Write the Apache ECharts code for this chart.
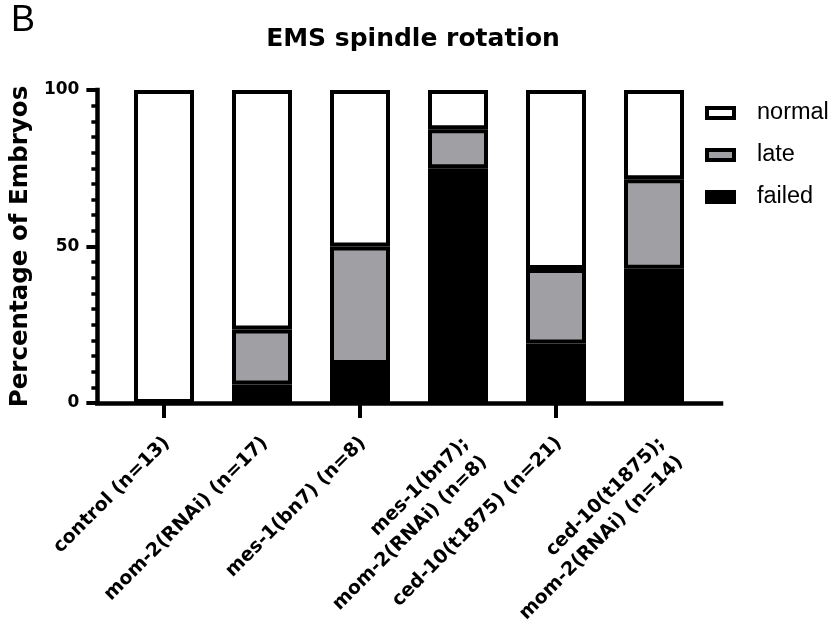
<!DOCTYPE html>
<html>
<head>
<meta charset="utf-8">
<script src="https://cdn.jsdelivr.net/npm/echarts@6/dist/echarts.min.js"></script>
<style>
html,body{margin:0;padding:0;background:#fff;}
#chart{width:835px;height:628px;}
</style>
</head>
<body>
<div id="chart"></div>
<script>
const categories = ['control (n=13)', 'mom-2(RNAi) (n=17)', 'mes-1(bn7) (n=8)', 'mes-1(bn7);\nmom-2(RNAi) (n=8)', 'ced-10(t1875) (n=21)', 'ced-10(t1875);\nmom-2(RNAi) (n=14)'];
const failed = [0, 5.9, 12.5, 75, 19.0, 42.9];
const late = [0, 17.6, 37.5, 12.5, 23.8, 28.6];
const normal = [100, 76.5, 50, 12.5, 57.2, 28.5];
const yTicks = [0, 50, 100];

const BOLD = "'DejaVu Sans', sans-serif";
const REG = "'Liberation Sans', Arial, sans-serif";

const chart = echarts.init(document.getElementById('chart'), null, {renderer: 'canvas'});
const barStyle = (fill) => ({color: fill, borderColor: '#000', borderWidth: 4});
const labelStyle = {rotate: 45, interval: 0, fontFamily: BOLD, fontWeight: 'bold', fontSize: 19, color: '#000', lineHeight: 26};
chart.setOption({
  backgroundColor: '#fff',
  animation: false,
  title: [
    {text: 'B', left: 11, top: 3, padding: 0, textStyle: {fontFamily: "'Liberation Sans Narrow', 'Liberation Sans', sans-serif", fontSize: 36, fontWeight: 'normal', color: '#000'}},
    {text: 'EMS spindle rotation', left: 408, textAlign: 'center', top: 22, textStyle: {fontFamily: BOLD, fontSize: 25, fontWeight: 'bold', color: '#000'}}
  ],
  legend: {
    data: ['normal', 'late', 'failed'],
    orient: 'vertical',
    left: 705, top: 101, padding: 0,
    icon: 'rect',
    itemWidth: 27, itemHeight: 10, itemGap: 18,
    itemStyle: {borderColor: '#000', borderWidth: 4},
    textStyle: {fontFamily: REG, fontSize: 23.5, color: '#000', lineHeight: 24, padding: [0, 0, 0, 18]}
  },
  grid: [
    {left: 97, right: 114, top: 90, bottom: 225},
    {left: 115, right: 132, top: 90, bottom: 225},
    {left: 118, right: 129, top: 90, bottom: 225},
    {left: 132, right: 115, top: 90, bottom: 225}
  ],
  xAxis: [
    {gridIndex: 0, type: 'value', min: 0, max: 1, axisLine: {show: true, lineStyle: {color: '#000', width: 4.5, cap: 'square'}}, axisTick: {show: false}, axisLabel: {show: false}, splitLine: {show: false}},
    {gridIndex: 1, type: 'category', data: categories, boundaryGap: true,
     axisLine: {show: false},
     axisTick: {show: true, alignWithLabel: true, length: 15, lineStyle: {color: '#000', width: 4}},
     axisLabel: {show: false}},
    {gridIndex: 2, type: 'category', data: categories, boundaryGap: true,
     axisLine: {show: false}, axisTick: {show: false},
     axisLabel: Object.assign({margin: 37, formatter: v => v.includes('\n') ? '' : v}, labelStyle)},
    {gridIndex: 3, type: 'category', data: categories, boundaryGap: true,
     axisLine: {show: false}, axisTick: {show: false},
     axisLabel: Object.assign({margin: 62, formatter: v => v.includes('\n') ? v : ''}, labelStyle)}
  ],
  yAxis: [
    {gridIndex: 0, type: 'value', min: 0, max: 100, interval: 50,
     name: 'Percentage of Embryos', nameLocation: 'middle', nameGap: 57,
     nameTextStyle: {fontFamily: BOLD, fontWeight: 'bold', fontSize: 24.5, color: '#000'},
     axisLine: {show: true, lineStyle: {color: '#000', width: 4.5, cap: 'square'}},
     axisTick: {show: true, length: 11, lineStyle: {color: '#000', width: 4}},
     minorTick: {show: true, splitNumber: 10, length: 6, lineStyle: {color: '#000', width: 3.5}},
     axisLabel: {margin: 18, fontFamily: BOLD, fontWeight: 'bold', fontSize: 17, color: '#000', formatter: v => yTicks.includes(v) ? String(v) : ''},
     splitLine: {show: false}},
    {gridIndex: 1, type: 'value', min: 0, max: 100, show: false},
    {gridIndex: 2, type: 'value', min: 0, max: 100, show: false},
    {gridIndex: 3, type: 'value', min: 0, max: 100, show: false}
  ],
  series: [
    {name: 'failed', type: 'bar', stack: 'a', xAxisIndex: 1, yAxisIndex: 1, barWidth: 60, data: failed, itemStyle: barStyle('#000000')},
    {name: 'late', type: 'bar', stack: 'a', xAxisIndex: 1, yAxisIndex: 1, barWidth: 60, data: late, itemStyle: barStyle('#a0a0a4')},
    {name: 'normal', type: 'bar', stack: 'a', xAxisIndex: 1, yAxisIndex: 1, barWidth: 60, data: normal, itemStyle: barStyle('#ffffff')}
  ]
});
</script>
</body>
</html>
